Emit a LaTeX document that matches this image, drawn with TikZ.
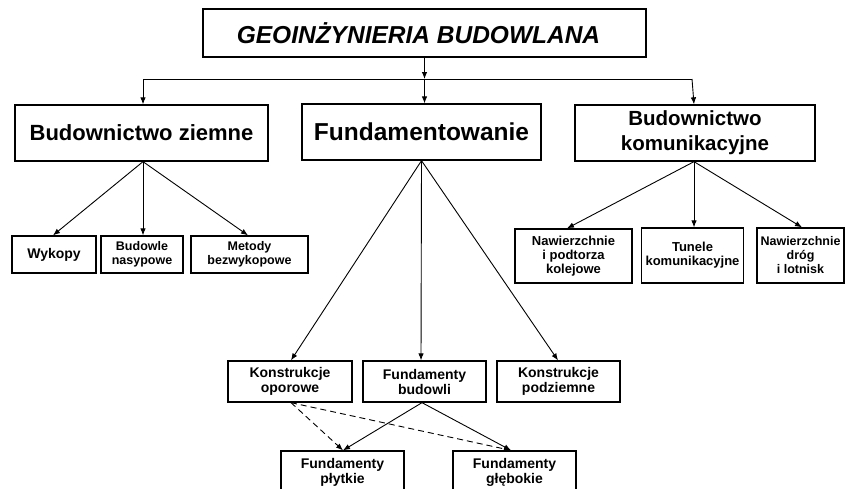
\documentclass[tikz,border=0pt]{standalone}
\usepackage{fontspec}
\setmainfont{Liberation Sans}
\usetikzlibrary{arrows.meta,calc}
\begin{document}
\begin{tikzpicture}[x=1pt,y=-1pt,
  box/.style={draw, line width=1.3pt, fill=white, inner sep=0pt, align=center},
  conn/.style={line width=0.9pt, -{Latex[length=7pt,width=5.5pt]}},
  dconn/.style={conn, dash pattern=on 6pt off 4pt}
]
\useasboundingbox (0,0) rectangle (845,488);
\clip (0,0) rectangle (845,488);
\fill[white] (0,0) rectangle (845,488);

% level 0
\node[box, minimum width=443pt, minimum height=48pt,
      font=\fontsize{24.5}{29}\selectfont\bfseries\itshape] (top) at (424.5,33)
      {\kern-12pt GEOINŻYNIERIA BUDOWLANA};

% level 1
\node[box, minimum width=253pt, minimum height=56pt,
      font=\fontsize{22}{26}\selectfont\bfseries] (bz) at (141.5,133) {Budownictwo ziemne};
\node[box, minimum width=239pt, minimum height=56pt,
      font=\fontsize{24.5}{28}\selectfont\bfseries] (fu) at (421.5,132) {Fundamentowanie};
\node[box, minimum width=240pt, minimum height=56pt,
      font=\fontsize{20.5}{25}\selectfont\bfseries] (bk) at (695,133) {\raisebox{-2pt}{Budownictwo}\\\raisebox{-2pt}{komunikacyjne}};

% level 2 left
\node[box, minimum width=84pt, minimum height=37pt,
      font=\fontsize{14}{15}\selectfont\bfseries] (wyk) at (54,254.5) {Wykopy};
\node[box, minimum width=82pt, minimum height=37pt,
      font=\fontsize{12.5}{14}\selectfont\bfseries] (bud) at (142,254.5) {Budowle\\nasypowe};
\node[box, minimum width=117pt, minimum height=37pt,
      font=\fontsize{12.5}{14}\selectfont\bfseries] (met) at (249.5,254.5) {Metody\\bezwykopowe};

% level 2 right
\node[box, minimum width=117pt, minimum height=54pt,
      font=\fontsize{13}{14}\selectfont\bfseries] (naw) at (573.5,256) {Nawierzchnie\\i podtorza\\kolejowe};
\node[box, minimum width=102pt, minimum height=55pt,
      font=\fontsize{13}{14}\selectfont\bfseries] (tun) at (692.5,255.5) {Tunele\\komunikacyjne};
\node[box, minimum width=87pt, minimum height=55pt,
      font=\fontsize{12.5}{14}\selectfont\bfseries] (ndl) at (800.5,255.5) {Nawierzchnie\\dróg\\i lotnisk};

% level 2 middle
\node[box, minimum width=124pt, minimum height=41pt,
      font=\fontsize{14}{15}\selectfont\bfseries] (ko) at (290,381.5) {Konstrukcje\\oporowe};
\node[box, minimum width=123pt, minimum height=41pt,
      font=\fontsize{14}{15}\selectfont\bfseries] (fb) at (424.5,381.5) {Fundamenty\\budowli};
\node[box, minimum width=123pt, minimum height=41pt,
      font=\fontsize{14}{15}\selectfont\bfseries] (kp) at (558.5,381.5) {Konstrukcje\\podziemne};

% level 3
\node[box, minimum width=123pt, minimum height=42pt,
      font=\fontsize{14}{15}\selectfont\bfseries] (fp) at (342.5,472) {Fundamenty\\płytkie};
\node[box, minimum width=123pt, minimum height=42pt,
      font=\fontsize{14}{15}\selectfont\bfseries] (fg) at (514.5,472) {Fundamenty\\głębokie};

% top distribution
\coordinate (jc) at (424.5,79);
\coordinate (jl) at (143,79);
\coordinate (jr) at (692,79);
\draw[conn] (top.south) -- (jc);
\draw[line width=0.9pt] (jl) -- (jr);
\draw[conn] (jl) -- (jl |- bz.north);
\draw[conn] (jc) -- (jc |- fu.north);
\draw[conn] (jr) -- ($(bk.north)+(-1,0)$);

% Budownictwo ziemne
\draw[conn] ($(bz.south)+(1.5,0)$) -- ($(wyk.north)+(-1,0)$);
\draw[conn] ($(bz.south)+(1.5,0)$) -- ($(bud.north)+(1,0)$);
\draw[conn] ($(bz.south)+(1.5,0)$) -- ($(met.north)+(-1.5,0)$);

% Fundamentowanie
\draw[conn] (fu.south) -- ($(ko.north)+(1,0)$);
\draw[conn] (fu.south) -- ($(fb.north)+(-3.5,0)$);
\draw[conn] (fu.south) -- ($(kp.north)+(-0.5,0)$);

% Budownictwo komunikacyjne
\draw[conn] ($(bk.south)+(-1,0)$) -- ($(naw.north)+(-6.5,0)$);
\draw[conn] ($(bk.south)+(-1,0)$) -- ($(tun.north)+(1.5,0)$);
\draw[conn] ($(bk.south)+(-1,0)$) -- ($(ndl.north)+(1.5,0)$);

% foundations
\draw[dconn] ($(ko.south)+(1,0)$) -- ($(fp.north)+(0.5,0)$);
\draw[dconn] ($(ko.south)+(1,0)$) -- ($(fg.north)+(-3.5,0)$);
\draw[conn] ($(fb.south)+(-2.5,0)$) -- ($(fp.north)+(0.5,0)$);
\draw[conn] ($(fb.south)+(-2.5,0)$) -- ($(fg.north)+(-3.5,0)$);
\end{tikzpicture}
\end{document}
